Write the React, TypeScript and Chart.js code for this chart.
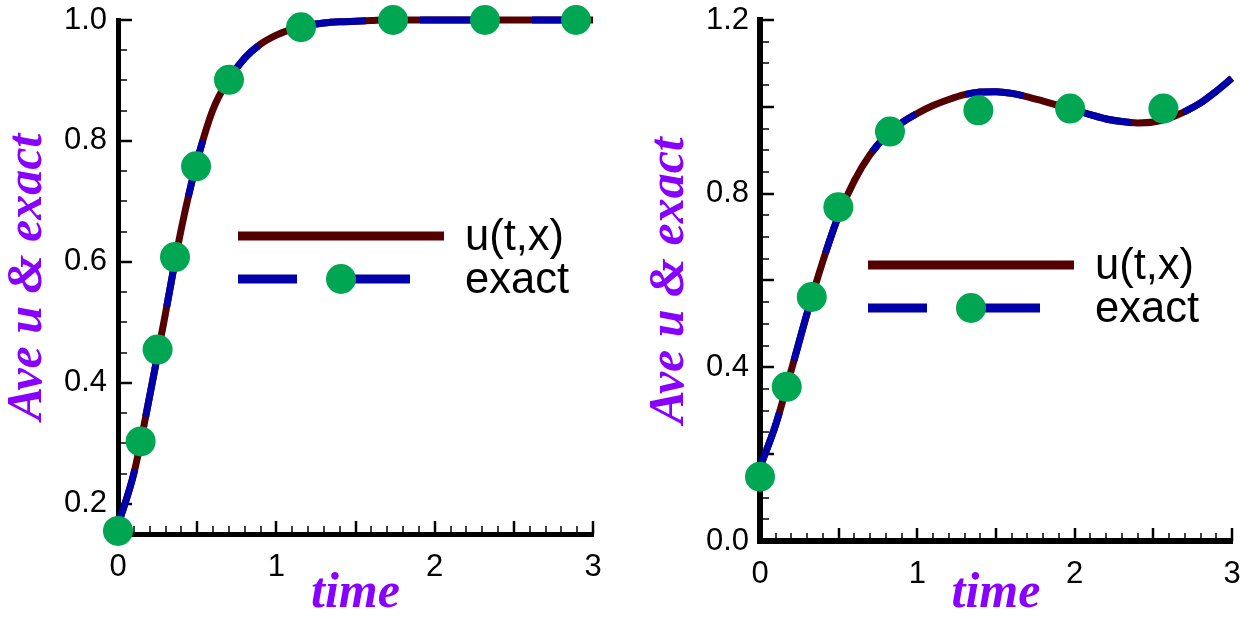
import React, { useEffect, useRef } from 'react';
import { Chart, registerables } from 'chart.js';

Chart.register(...registerables);

// ---------- data ----------
const T_GRID = [0, 0.1, 0.2, 0.3, 0.4, 0.5, 0.6, 0.7, 0.8, 0.9, 1.0, 1.1, 1.2, 1.3, 1.4, 1.5, 1.6, 1.7, 1.8, 1.9, 2.0, 2.1, 2.2, 2.3, 2.4, 2.5, 2.6, 2.7, 2.8, 2.9, 3.0];

const LEFT_U = [0.165, 0.25, 0.378, 0.515, 0.655, 0.767, 0.852, 0.902, 0.937, 0.96, 0.975, 0.985, 0.991, 0.995, 0.997, 0.998, 0.999, 1.0, 1.0, 1.0, 1.0, 1.0, 1.0, 1.0, 1.0, 1.0, 1.0, 1.0, 1.0, 1.0, 1.0];
const LEFT_EXACT_T = [0, 0.143, 0.25, 0.36, 0.493, 0.701, 1.156, 1.737, 2.318, 2.893];
const LEFT_EXACT_V = [0.155, 0.303, 0.455, 0.608, 0.758, 0.901, 0.988, 1.0, 1.0, 1.0];

const RIGHT_U = [0.17, 0.268, 0.395, 0.525, 0.645, 0.75, 0.83, 0.89, 0.933, 0.963, 0.985, 1.003, 1.017, 1.028, 1.034, 1.035, 1.031, 1.023, 1.013, 1.003, 0.993, 0.982, 0.972, 0.966, 0.963, 0.965, 0.974, 0.989, 1.009, 1.036, 1.066];
const RIGHT_EXACT_T = [0, 0.17, 0.329, 0.498, 0.826, 1.388, 1.971, 2.564];
const RIGHT_EXACT_V = [0.148, 0.355, 0.562, 0.769, 0.943, 0.992, 0.996, 0.996];

const X_TICK_LABELS = [0, 1, 2, 3];
const LEFT_Y_TICK_LABELS = [0.2, 0.4, 0.6, 0.8, 1.0];
const RIGHT_Y_TICK_LABELS = [0.0, 0.4, 0.8, 1.2];
const LEGEND_LABELS = ['u(t,x)', 'exact'];
const X_TITLE = 'time';
const Y_TITLE = 'Ave u & exact';

// ---------- styles ----------
const MAROON = '#550000';
const BLUE = '#0000aa';
const GREEN = '#00a651';
const PURPLE = '#8800ff';
const SANS = "'Liberation Sans', Arial, Helvetica, sans-serif";
const SERIF = "'Liberation Serif', 'Times New Roman', serif";
const DASH = [58, 54];

const innerTicks = {
  id: 'innerTicks',
  beforeDatasetsDraw(chart: any, _args: any, opts: any) {
    const { ctx, chartArea, scales } = chart;
    const xs = scales.x;
    const ys = scales.y;
    ctx.save();
    ctx.strokeStyle = '#000';
    for (let i = 1; i <= 30; i++) {
      const v = i / 10;
      const major = i % 5 === 0;
      const px = Math.round(xs.getPixelForValue(v));
      ctx.lineWidth = major ? 2.5 : 1.5;
      ctx.beginPath();
      ctx.moveTo(px, chartArea.bottom);
      ctx.lineTo(px, chartArea.bottom - (major ? 13 : 8));
      ctx.stroke();
    }
    const k0 = Math.round(opts.yMin / 0.05) + 1;
    const k1 = Math.round(opts.yMax / 0.05);
    for (let k = k0; k <= k1; k++) {
      const v = k * 0.05;
      const major = k % 4 === 0;
      const py = Math.round(ys.getPixelForValue(v));
      ctx.lineWidth = major ? 2.5 : 1.5;
      ctx.beginPath();
      ctx.moveTo(chartArea.left, py);
      ctx.lineTo(chartArea.left + (major ? 14 : 9), py);
      ctx.stroke();
    }
    ctx.restore();
  },
};

const customLegend = {
  id: 'customLegend',
  afterDatasetsDraw(chart: any, _args: any, opts: any) {
    const { ctx, chartArea } = chart;
    const x0 = chartArea.left + opts.dx;
    const y0 = opts.y;
    const len = 206;
    const gap = 43;
    ctx.save();
    ctx.lineWidth = 9;
    ctx.lineCap = 'butt';
    // u(t,x)
    ctx.strokeStyle = MAROON;
    ctx.setLineDash([]);
    ctx.beginPath();
    ctx.moveTo(x0, y0);
    ctx.lineTo(x0 + len, y0);
    ctx.stroke();
    // exact
    ctx.strokeStyle = BLUE;
    ctx.setLineDash([59, 54]);
    ctx.beginPath();
    ctx.moveTo(x0, y0 + gap);
    ctx.lineTo(x0 + len, y0 + gap);
    ctx.stroke();
    ctx.setLineDash([]);
    ctx.fillStyle = GREEN;
    ctx.beginPath();
    ctx.arc(x0 + len / 2, y0 + gap, 15, 0, Math.PI * 2);
    ctx.fill();
    // labels
    ctx.fillStyle = '#000';
    ctx.font = `43.5px ${SANS}`;
    ctx.textAlign = 'left';
    ctx.textBaseline = 'alphabetic';
    ctx.fillText(LEGEND_LABELS[0], x0 + 227, y0 + 14);
    ctx.fillText(LEGEND_LABELS[1], x0 + 227, y0 + gap + 14);
    ctx.restore();
  },
};

type P = {
  u: number[];
  exactT: number[];
  exactV: number[];
  yMin: number;
  yMax: number;
  yTicks: number[];
  padRight: number;
  yAxisWidth: number;
  xAxisHeight: number;
  axisWidth: number;
  yTitlePad: number;
  legendDx: number;
  legendY: number;
};

function buildConfig(p: P): any {
  const curve = T_GRID.map((t, i) => ({ x: t, y: p.u[i] }));
  const titleFont = { family: SERIF, size: 50, style: 'italic', weight: 'bold', lineHeight: 1 };
  return {
    type: 'line',
    data: {
      datasets: [
        {
          label: 'exact points',
          data: p.exactT.map((t, i) => ({ x: t, y: p.exactV[i] })),
          showLine: false,
          pointRadius: 15,
          pointBackgroundColor: GREEN,
          pointBorderWidth: 0,
          clip: false,
        },
        {
          label: 'exact',
          data: curve,
          borderColor: BLUE,
          borderWidth: 7,
          borderDash: DASH,
          pointRadius: 0,
          cubicInterpolationMode: 'monotone',
          fill: false,
          clip: false,
        },
        {
          label: 'u(t,x)',
          data: curve,
          borderColor: MAROON,
          borderWidth: 7,
          pointRadius: 0,
          cubicInterpolationMode: 'monotone',
          fill: false,
          clip: false,
        },
      ],
    },
    options: {
      responsive: false,
      animation: false,
      devicePixelRatio: 1,
      events: [],
      layout: { padding: { left: 0, right: p.padRight, top: 20, bottom: 0 } },
      plugins: {
        legend: { display: false },
        tooltip: { enabled: false },
        innerTicks: { yMin: p.yMin, yMax: p.yMax },
        customLegend: { dx: p.legendDx, y: p.legendY },
      },
      scales: {
        x: {
          type: 'linear',
          min: 0,
          max: 3,
          afterBuildTicks: (s: any) => {
            s.ticks = X_TICK_LABELS.map((v) => ({ value: v }));
          },
          afterFit: (s: any) => {
            s.height = p.xAxisHeight;
            s.paddingLeft = 0;
            s.paddingRight = 0;
          },
          grid: { display: false, drawTicks: false },
          border: { display: true, color: '#000', width: p.axisWidth },
          ticks: {
            padding: 15,
            color: '#000',
            font: { family: SANS, size: 31 },
            maxRotation: 0,
            autoSkip: false,
            callback: (v: any) => String(v),
          },
          title: { display: true, text: X_TITLE, color: PURPLE, font: titleFont, padding: { top: 0, bottom: 0 } },
        },
        y: {
          type: 'linear',
          min: p.yMin,
          max: p.yMax,
          afterBuildTicks: (s: any) => {
            s.ticks = p.yTicks.map((v) => ({ value: v }));
          },
          afterFit: (s: any) => {
            s.width = p.yAxisWidth;
            s.paddingTop = 0;
            s.paddingBottom = 0;
          },
          grid: { display: false, drawTicks: false },
          border: { display: true, color: '#000', width: p.axisWidth },
          ticks: {
            padding: 11,
            color: '#000',
            font: { family: SANS, size: 31 },
            autoSkip: false,
            callback: (v: any) => Number(v).toFixed(1),
          },
          title: { display: true, text: Y_TITLE, color: PURPLE, font: titleFont, padding: { top: p.yTitlePad, bottom: 0 } },
        },
      },
    },
    plugins: [innerTicks, customLegend],
  };
}

function Panel(props: { p: P; left: number; width: number }) {
  const ref = useRef<HTMLCanvasElement | null>(null);
  useEffect(() => {
    if (!ref.current) return;
    const chart = new Chart(ref.current, buildConfig(props.p));
    return () => chart.destroy();
  }, []);
  return (
    <canvas
      ref={ref}
      width={props.width}
      height={619}
      style={{ position: 'absolute', left: props.left, top: 0, width: props.width, height: 619 }}
    />
  );
}

const LEFT_P: P = {
  u: LEFT_U,
  exactT: LEFT_EXACT_T,
  exactV: LEFT_EXACT_V,
  yMin: 0.15,
  yMax: 1.0,
  yTicks: LEFT_Y_TICK_LABELS,
  padRight: 37,
  yAxisWidth: 118,
  xAxisHeight: 85,
  axisWidth: 5,
  yTitlePad: 3,
  legendDx: 120,
  legendY: 236,
};

const RIGHT_P: P = {
  u: RIGHT_U,
  exactT: RIGHT_EXACT_T,
  exactV: RIGHT_EXACT_V,
  yMin: 0,
  yMax: 1.2,
  yTicks: RIGHT_Y_TICK_LABELS,
  padRight: 21,
  yAxisWidth: 130,
  xAxisHeight: 78,
  axisWidth: 6,
  yTitlePad: 15,
  legendDx: 108,
  legendY: 265,
};

export default function App() {
  return (
    <div style={{ position: 'fixed', left: 0, top: 0, width: 1253, height: 619, background: '#fff', overflow: 'hidden' }}>
      <Panel p={LEFT_P} left={0} width={630} />
      <Panel p={RIGHT_P} left={630} width={623} />
    </div>
  );
}
